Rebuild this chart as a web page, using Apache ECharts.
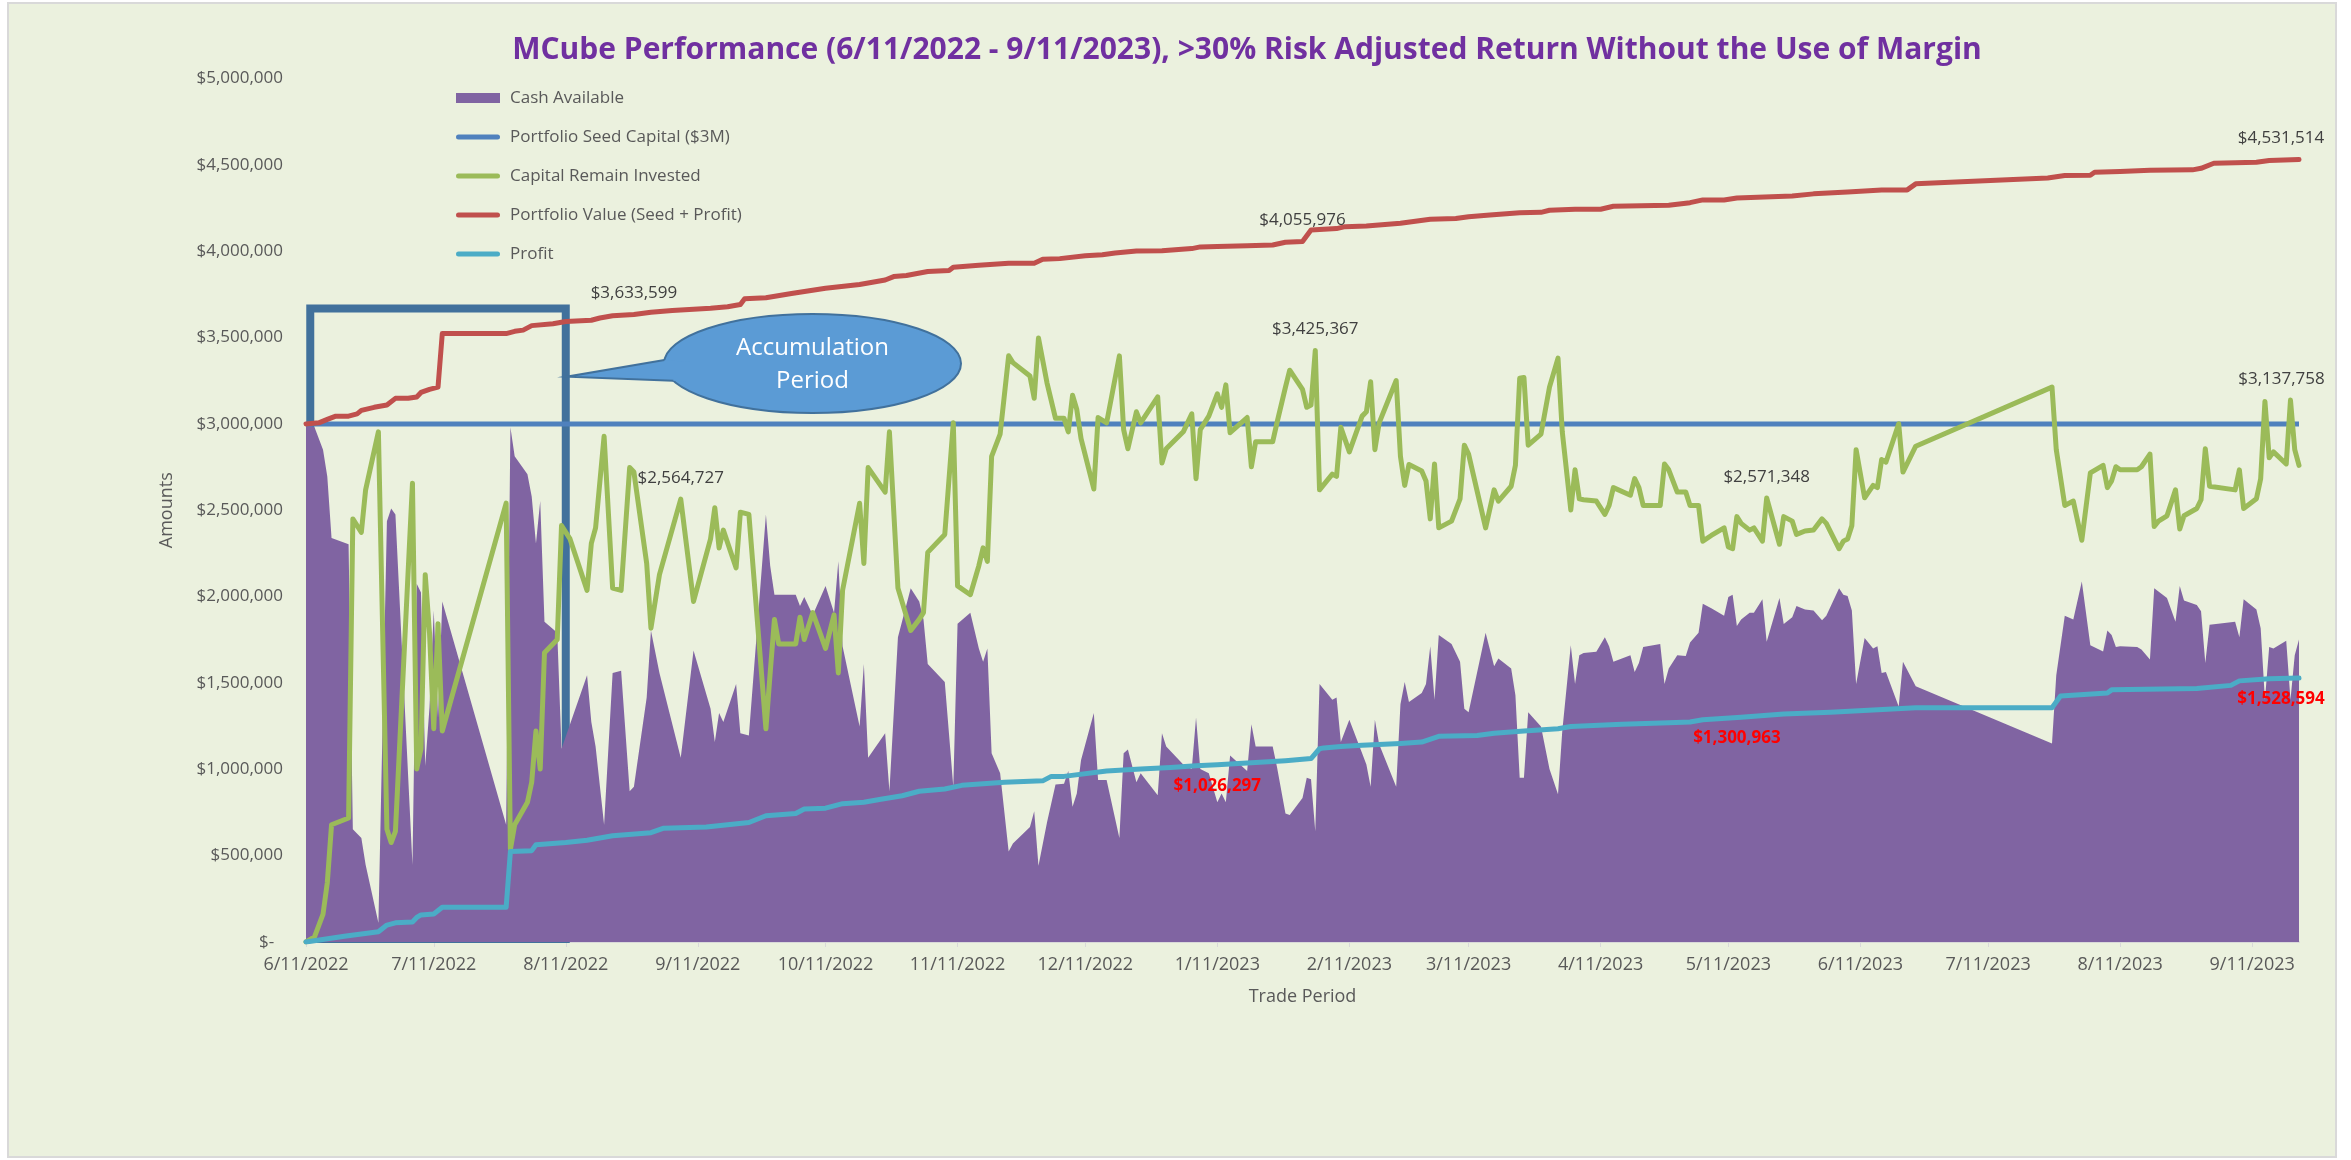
<!DOCTYPE html>
<html>
<head>
<meta charset="utf-8">
<title>MCube Performance</title>
<script src="https://cdn.jsdelivr.net/npm/echarts@6/dist/echarts.min.js"></script>
<style>
  html, body { margin: 0; padding: 0; background: #ffffff; }
  #main { width: 2351px; height: 1160px; }
</style>
</head>
<body>
<div id="main"></div>
<script>
// trade dates shared by Cash Available and Capital Remain Invested
var tradeDates = [
  '2022-06-11','2022-06-13','2022-06-15','2022-06-16','2022-06-17','2022-06-21','2022-06-22','2022-06-24','2022-06-25','2022-06-28','2022-06-30',
  '2022-07-01','2022-07-02','2022-07-06','2022-07-07','2022-07-08','2022-07-09','2022-07-10','2022-07-11','2022-07-12','2022-07-13','2022-07-28','2022-07-29','2022-07-30',
  '2022-08-02','2022-08-03','2022-08-04','2022-08-05','2022-08-06','2022-08-09','2022-08-10','2022-08-12','2022-08-16','2022-08-17','2022-08-18','2022-08-20','2022-08-22','2022-08-24','2022-08-26','2022-08-27','2022-08-30','2022-08-31',
  '2022-09-02','2022-09-07','2022-09-10','2022-09-14','2022-09-15','2022-09-16','2022-09-17','2022-09-20','2022-09-21','2022-09-23','2022-09-27','2022-09-28','2022-09-29','2022-09-30',
  '2022-10-04','2022-10-05','2022-10-06','2022-10-08','2022-10-11','2022-10-13','2022-10-14','2022-10-15','2022-10-19','2022-10-20','2022-10-21','2022-10-25','2022-10-26','2022-10-28','2022-10-31',
  '2022-11-02','2022-11-03','2022-11-04','2022-11-08','2022-11-10','2022-11-11','2022-11-14','2022-11-16','2022-11-17','2022-11-18','2022-11-19','2022-11-21','2022-11-23','2022-11-24','2022-11-28','2022-11-29','2022-11-30',
  '2022-12-02','2022-12-04','2022-12-06','2022-12-07','2022-12-08','2022-12-09','2022-12-10','2022-12-13','2022-12-14','2022-12-16','2022-12-19','2022-12-20','2022-12-21','2022-12-23','2022-12-24','2022-12-28','2022-12-29','2022-12-30',
  '2023-01-03','2023-01-05','2023-01-06','2023-01-07','2023-01-09','2023-01-11','2023-01-12','2023-01-13','2023-01-14','2023-01-18','2023-01-19','2023-01-20','2023-01-24','2023-01-25','2023-01-27','2023-01-28','2023-01-31',
  '2023-02-01','2023-02-02','2023-02-03','2023-02-04','2023-02-07','2023-02-08','2023-02-09','2023-02-11','2023-02-14','2023-02-15','2023-02-16','2023-02-17','2023-02-18','2023-02-22','2023-02-23','2023-02-24','2023-02-25','2023-02-28',
  '2023-03-01','2023-03-02','2023-03-03','2023-03-04','2023-03-07','2023-03-09','2023-03-10','2023-03-11','2023-03-15','2023-03-17','2023-03-18','2023-03-21','2023-03-22','2023-03-23','2023-03-24','2023-03-25','2023-03-28','2023-03-30',
  '2023-04-01','2023-04-02','2023-04-04','2023-04-05','2023-04-06','2023-04-07','2023-04-10','2023-04-12','2023-04-13','2023-04-14','2023-04-18','2023-04-19','2023-04-20','2023-04-21','2023-04-25','2023-04-26','2023-04-27','2023-04-29',
  '2023-05-01','2023-05-02','2023-05-04','2023-05-05','2023-05-07','2023-05-10','2023-05-11','2023-05-12','2023-05-13','2023-05-14','2023-05-16','2023-05-17','2023-05-19','2023-05-20','2023-05-23','2023-05-24','2023-05-26','2023-05-27','2023-05-29','2023-05-31',
  '2023-06-02','2023-06-03','2023-06-06','2023-06-07','2023-06-08','2023-06-09','2023-06-10','2023-06-12','2023-06-14','2023-06-15','2023-06-16','2023-06-17','2023-06-20','2023-06-21','2023-06-24',
  '2023-07-26','2023-07-27','2023-07-29','2023-07-31',
  '2023-08-02','2023-08-04','2023-08-07','2023-08-08','2023-08-09','2023-08-10','2023-08-11','2023-08-15','2023-08-16','2023-08-18','2023-08-19','2023-08-20','2023-08-22','2023-08-24','2023-08-25','2023-08-26','2023-08-29','2023-08-30','2023-08-31',
  '2023-09-01','2023-09-07','2023-09-08','2023-09-09','2023-09-12','2023-09-13','2023-09-14','2023-09-15','2023-09-16','2023-09-19','2023-09-20','2023-09-21','2023-09-22'
];

var cashAvailable = [
  3000000,2980000,2851000,2696000,2339000,2303000,653000,602000,447000,111000,2437000,
  2510000,2476000,447000,2075000,2024000,1020000,1360000,1920000,1300000,1972000,679000,2980000,2812000,
  2709000,2579000,2308000,2553000,1855000,1791000,1119000,1261000,1545000,1274000,1132000,679000,1558000,1571000,873000,899000,1416000,1804000,
  1558000,1067000,1688000,1351000,1158000,1326000,1274000,1494000,1209000,1196000,2476000,2179000,2011000,2011000,
  2011000,1946000,1998000,1894000,2062000,1907000,2204000,1713000,1248000,1610000,1067000,1209000,873000,1765000,2049000,
  1972000,1868000,1610000,1506000,899000,1843000,1907000,1700000,1623000,1700000,1093000,977000,524000,571000,666000,757000,442000,
  692000,912000,917000,990000,783000,860000,1054000,1326000,938000,938000,602000,1093000,1114000,925000,977000,850000,1209000,1132000,
  1028000,1002000,1300000,1002000,977000,809000,860000,809000,1080000,990000,1261000,1132000,1132000,1015000,744000,736000,834000,
  951000,943000,641000,1494000,1403000,1416000,1158000,1287000,1093000,1028000,899000,1287000,1145000,899000,1377000,1506000,1390000,1442000,
  1494000,1713000,1403000,1778000,1726000,1623000,1351000,1331000,1791000,1597000,1641000,1584000,1429000,951000,951000,1331000,1248000,1002000,
  855000,1222000,1718000,1494000,1661000,1674000,1680000,1765000,1713000,1623000,1661000,1563000,1615000,1708000,1726000,1494000,1584000,1661000,
  1656000,1734000,1791000,1959000,1933000,1889000,1998000,2011000,1830000,1868000,1907000,1907000,1985000,1739000,1992000,1842000,1881000,1946000,1925000,1920000,
  1863000,1889000,2049000,2011000,2003000,1920000,1494000,1760000,1700000,1713000,1558000,1563000,1364000,1623000,1481000,
  1150000,1545000,1889000,1868000,
  2088000,1718000,1682000,1804000,1778000,1708000,1713000,1708000,1693000,1636000,2049000,2029000,1992000,1855000,2062000,1977000,1951000,1915000,1615000,
  1837000,1855000,1765000,1985000,1925000,1817000,1403000,1708000,1700000,1744000,1403000,1661000,1752000
];

var capitalInvested = [
  0,30000,162000,343000,679000,718000,2450000,2372000,2618000,2954000,653000,
  576000,641000,2657000,1002000,1119000,2127000,1791000,1235000,1843000,1222000,2541000,537000,679000,
  809000,925000,1222000,1002000,1675000,1752000,2411000,2334000,2036000,2308000,2398000,2928000,2049000,2036000,2747000,2721000,2192000,1817000,
  2127000,2564727,1972000,2334000,2515000,2282000,2385000,2166000,2489000,2476000,1235000,1558000,1868000,1726000,
  1726000,1881000,1752000,1907000,1700000,1894000,1558000,2036000,2541000,2192000,2747000,2605000,2954000,2049000,1804000,
  1868000,1907000,2256000,2360000,3006000,2062000,2011000,2179000,2282000,2204000,2812000,2941000,3394000,3355000,3277000,3148000,3497000,
  3238000,3032000,3032000,2954000,3166000,3083000,2915000,2623000,3037000,3006000,3394000,2967000,2856000,3070000,3006000,3156000,2773000,2856000,
  2954000,3058000,2683000,2967000,3045000,3174000,3096000,3226000,2949000,3037000,2752000,2897000,2897000,3006000,3213000,3311000,3200000,
  3096000,3109000,3425367,2618000,2709000,2696000,2980000,2838000,3045000,3070000,3244000,2851000,3006000,3251000,2812000,2644000,2765000,2727000,
  2670000,2450000,2768000,2398000,2437000,2566000,2877000,2825000,2398000,2618000,2553000,2639000,2760000,3264000,3269000,2877000,2941000,3213000,
  3381000,2954000,2502000,2734000,2566000,2561000,2553000,2476000,2528000,2631000,2587000,2683000,2631000,2528000,2528000,2768000,2734000,2605000,
  2605000,2528000,2528000,2321000,2354000,2398000,2287000,2277000,2463000,2424000,2385000,2398000,2321000,2571348,2303000,2463000,2437000,2360000,2380000,2385000,
  2450000,2424000,2277000,2321000,2334000,2411000,2851000,2572000,2644000,2631000,2794000,2778000,3001000,2721000,2871000,
  3213000,2851000,2528000,2553000,
  2326000,2716000,2760000,2631000,2670000,2752000,2734000,2734000,2752000,2825000,2406000,2437000,2468000,2618000,2391000,2468000,2510000,2561000,2856000,
  2639000,2618000,2734000,2510000,2566000,2683000,3130000,2804000,2838000,2768000,3137758,2851000,2760000
];

var valueDates = [
  '2022-06-11','2022-06-14','2022-06-16','2022-06-18','2022-06-21','2022-06-23','2022-06-24','2022-06-27','2022-06-30','2022-07-02',
  '2022-07-05','2022-07-07','2022-07-08','2022-07-10','2022-07-12','2022-07-13','2022-07-28','2022-07-30','2022-08-01','2022-08-03',
  '2022-08-08','2022-08-11','2022-08-17','2022-08-19','2022-08-22','2022-08-27','2022-08-31','2022-09-05','2022-09-14','2022-09-18',
  '2022-09-21','2022-09-22','2022-09-27','2022-10-03','2022-10-11','2022-10-19','2022-10-25','2022-10-27','2022-10-30','2022-11-04',
  '2022-11-09','2022-11-10','2022-11-16','2022-11-23','2022-11-29','2022-12-01','2022-12-05','2022-12-11','2022-12-15','2022-12-18',
  '2022-12-23','2022-12-29','2023-01-05','2023-01-07','2023-01-11','2023-01-18','2023-01-24','2023-01-27','2023-01-31','2023-02-02',
  '2023-02-08','2023-02-10','2023-02-15','2023-02-23','2023-03-02','2023-03-08','2023-03-11','2023-03-16','2023-03-23','2023-03-28',
  '2023-03-30','2023-04-05','2023-04-11','2023-04-14','2023-04-27','2023-05-02','2023-05-05','2023-05-10','2023-05-13','2023-05-26',
  '2023-05-31','2023-06-08','2023-06-16','2023-06-22','2023-06-24','2023-07-25','2023-07-29','2023-08-04','2023-08-05','2023-08-11',
  '2023-08-18','2023-08-28','2023-08-30','2023-09-02','2023-09-12','2023-09-15','2023-09-22'
];
var portfolioValue = [
  3000000,3006000,3026000,3045000,3045000,3058000,3078000,3096000,3109000,3148000,
  3148000,3156000,3182000,3200000,3213000,3523000,3523000,3536000,3543000,3569000,
  3580000,3593000,3600000,3613000,3626000,3633599,3647000,3657000,3670000,3678000,
  3691000,3724000,3730000,3755000,3786000,3807000,3833000,3853000,3859000,3882000,
  3888000,3907000,3918000,3930000,3930000,3953000,3957000,3974000,3980000,3990000,
  4001000,4003000,4015000,4025000,4027000,4032000,4036000,4052000,4055976,4123000,
  4131000,4142000,4146000,4162000,4185000,4189000,4200000,4210000,4223000,4225000,
  4237000,4243000,4243000,4260000,4266000,4281000,4297000,4297000,4308000,4320000,
  4332000,4343000,4355000,4355000,4390000,4424000,4438000,4440000,4457000,4461000,
  4469000,4471000,4480000,4509000,4515000,4525000,4531514
];

var profitDates = [
  '2022-06-11','2022-06-20','2022-06-28','2022-06-30','2022-07-02','2022-07-06','2022-07-07','2022-07-08','2022-07-11','2022-07-13',
  '2022-07-28','2022-07-29','2022-08-03','2022-08-04','2022-08-11','2022-08-16','2022-08-22','2022-08-31','2022-09-03','2022-09-13',
  '2022-09-23','2022-09-27','2022-10-04','2022-10-06','2022-10-11','2022-10-15','2022-10-20','2022-10-24','2022-10-29','2022-11-02',
  '2022-11-08','2022-11-12','2022-11-22','2022-12-01','2022-12-03','2022-12-06','2022-12-16','2022-12-24','2022-12-31','2023-01-06',
  '2023-01-11','2023-01-27','2023-02-02','2023-02-04','2023-02-05','2023-02-09','2023-02-14','2023-02-23','2023-02-28','2023-03-04',
  '2023-03-13','2023-03-17','2023-03-24','2023-04-01','2023-04-04','2023-04-16','2023-04-27','2023-05-02','2023-05-05','2023-05-14',
  '2023-05-24','2023-06-04','2023-06-14','2023-06-24','2023-07-26','2023-07-28','2023-08-08','2023-08-09','2023-08-29','2023-09-06',
  '2023-09-08','2023-09-15','2023-09-22'
];
var profit = [
  0,33000,59000,98000,111000,116000,142000,157000,162000,201000,
  201000,524000,529000,563000,576000,589000,615000,633000,659000,666000,
  692000,731000,744000,770000,775000,801000,809000,827000,847000,873000,
  886000,907000,925000,933000,959000,959000,990000,1002000,1010000,1020000,
  1026297,1050000,1062000,1119000,1124000,1132000,1139000,1150000,1158000,1191000,
  1196000,1209000,1222000,1235000,1248000,1261000,1269000,1274000,1287000,1301000,
  1320000,1331000,1344000,1357000,1357000,1424000,1442000,1460000,1468000,1486000,
  1512000,1525000,1528594
];

var seedDates = ['2022-06-11', '2023-09-22'];
var seedCapital = [3000000, 3000000];

var tickLabels = ['6/11/2022','7/11/2022','8/11/2022','9/11/2022','10/11/2022','11/11/2022','12/11/2022',
  '1/11/2023','2/11/2023','3/11/2023','4/11/2023','5/11/2023','6/11/2023','7/11/2023','8/11/2023','9/11/2023'];

// labelled points [date, value]
var valueLabels = [['2022-08-27', 3633599], ['2023-01-31', 4055976], ['2023-09-22', 4531514]];
var investedLabels = [['2022-09-07', 2564727], ['2023-02-03', 3425367], ['2023-05-20', 2571348], ['2023-09-20', 3137758]];
var profitLabels = [['2023-01-11', 1026297], ['2023-05-13', 1300963], ['2023-09-22', 1528594]];

var FONT = '"Open Sans", "Noto Sans", sans-serif';

// 'YYYY-MM-DD' -> local timestamp
function day(s) {
  var p = s.split('-');
  return new Date(+p[0], +p[1] - 1, +p[2]).getTime();
}
// 'M/D/YYYY' -> local timestamp
function tickDay(s) {
  var p = s.split('/');
  return new Date(+p[2], +p[0] - 1, +p[1]).getTime();
}
function money(v) {
  if (v === 0) return '$-  ';
  return '$' + String(Math.round(v)).replace(/\B(?=(\d{3})+(?!\d))/g, ',');
}
function pairs(xs, ys) {
  return xs.map(function (x, i) { return [day(x), ys[i]]; });
}
function marks(list, pos, offsets, bold, color) {
  return {
    symbol: 'circle',
    symbolSize: 1,
    silent: true,
    itemStyle: { color: 'rgba(0,0,0,0)' },
    label: {
      show: true, position: pos, distance: 12,
      color: color, fontSize: 17, fontFamily: FONT, fontWeight: bold ? 'bold' : 'normal',
      formatter: function (p) { return money(p.value); }
    },
    data: list.map(function (d, i) {
      return { coord: [day(d[0]), d[1]], value: d[1], label: { offset: [offsets[i], 0] } };
    })
  };
}

var tickValues = tickLabels.map(tickDay);
var lineIcon = 'path://M2.5,0 H41.5 A2.5,2.5 0 0 1 41.5,5 H2.5 A2.5,2.5 0 0 1 2.5,0 Z';

var myChart = echarts.init(document.getElementById('main'));

var option = {
  backgroundColor: '#ffffff',
  animation: false,
  title: {
    text: 'MCube Performance (6/11/2022 - 9/11/2023), >30% Risk Adjusted Return Without the Use of Margin',
    left: 1247, top: 35, textAlign: 'center', padding: 0,
    textStyle: { color: '#7030a0', fontSize: 30, fontWeight: 'bold', fontFamily: FONT }
  },
  legend: {
    orient: 'vertical', left: 451, top: 83, itemGap: 19,
    itemWidth: 44, itemHeight: 10, selectedMode: false,
    textStyle: { color: '#595959', fontSize: 17, fontFamily: FONT, lineHeight: 20, padding: [0, 0, 0, 5] },
    data: [
      { name: 'Cash Available', icon: 'rect' },
      { name: 'Portfolio Seed Capital ($3M)', icon: lineIcon },
      { name: 'Capital Remain Invested', icon: lineIcon },
      { name: 'Portfolio Value (Seed + Profit)', icon: lineIcon },
      { name: 'Profit', icon: lineIcon }
    ]
  },
  grid: { left: 306, right: 52, top: 78.5, bottom: 218 },
  xAxis: {
    type: 'value',
    min: day('2022-06-11'), max: day('2023-09-22'),
    name: 'Trade Period', nameLocation: 'middle', nameGap: 46,
    nameTextStyle: { color: '#595959', fontSize: 18, fontFamily: FONT },
    axisLine: { show: true, lineStyle: { color: '#d9d9d9', width: 2 } },
    axisTick: { show: true, length: 5, lineStyle: { color: '#d9d9d9' }, customValues: tickValues },
    axisLabel: {
      color: '#595959', fontSize: 18, fontFamily: FONT, margin: 14,
      customValues: tickValues,
      formatter: function (v) {
        var d = new Date(v);
        return (d.getMonth() + 1) + '/' + d.getDate() + '/' + d.getFullYear();
      }
    },
    splitLine: { show: false }
  },
  yAxis: {
    type: 'value', min: 0, max: 5000000, interval: 500000,
    name: 'Amounts', nameLocation: 'middle', nameGap: 130,
    nameTextStyle: { color: '#595959', fontSize: 18, fontFamily: FONT },
    axisLine: { show: false }, axisTick: { show: false }, splitLine: { show: false },
    axisLabel: { color: '#595959', fontSize: 17, fontFamily: FONT, margin: 23, formatter: money }
  },
  graphic: [
    { type: 'rect', z: -10, silent: true, shape: { x: 8, y: 3, width: 2328, height: 1154 },
      style: { fill: '#ebf1de', stroke: '#d9d9d9', lineWidth: 2 } },
    // callout bubble
    { type: 'ellipse', z: 100, silent: true, shape: { cx: 812.5, cy: 363.5, rx: 148.5, ry: 49.5 },
      style: { fill: '#5b9bd5', stroke: '#41719c', lineWidth: 2 } },
    { type: 'polygon', z: 101, silent: true,
      shape: { points: [[568, 376.6], [664.4, 360], [690, 362], [690, 382], [673.3, 380.7]] },
      style: { fill: '#5b9bd5' } },
    { type: 'polyline', z: 102, silent: true,
      shape: { points: [[664.4, 360], [566.7, 376.7], [673.3, 380.7]] },
      style: { stroke: '#41719c', lineWidth: 2, fill: null } },
    { type: 'text', z: 103, silent: true,
      style: { text: 'Accumulation\nPeriod', x: 812.5, y: 365, align: 'center', verticalAlign: 'middle',
        fill: '#ffffff', font: '24px ' + FONT, lineHeight: 33 } }
  ],
  series: [
    {
      name: 'Cash Available', type: 'line', symbol: 'none', z: 1,
      lineStyle: { width: 0 }, itemStyle: { color: '#8064a2' },
      areaStyle: { color: '#8064a2', opacity: 1 },
      data: pairs(tradeDates, cashAvailable)
    },
    {
      name: 'Portfolio Seed Capital ($3M)', type: 'line', symbol: 'none', z: 2,
      itemStyle: { color: '#4f81bd' }, lineStyle: { color: '#4f81bd', width: 5 },
      data: pairs(seedDates, seedCapital)
    },
    {
      name: 'Capital Remain Invested', type: 'line', symbol: 'none', z: 3,
      itemStyle: { color: '#9bbb59' }, lineStyle: { color: '#9bbb59', width: 5, join: 'round', cap: 'round' },
      data: pairs(tradeDates, capitalInvested),
      markPoint: marks(investedLabels, 'top', [0, 0, 0, -9], false, '#404040')
    },
    {
      name: 'Portfolio Value (Seed + Profit)', type: 'line', symbol: 'none', z: 4,
      itemStyle: { color: '#c0504d' }, lineStyle: { color: '#c0504d', width: 5, join: 'round', cap: 'round' },
      data: pairs(valueDates, portfolioValue),
      markPoint: marks(valueLabels, 'top', [0, 0, -18], false, '#404040')
    },
    {
      name: 'Profit', type: 'line', symbol: 'none', z: 5,
      itemStyle: { color: '#4bacc6' }, lineStyle: { color: '#4bacc6', width: 5, join: 'round', cap: 'round' },
      data: pairs(profitDates, profit),
      markPoint: marks(profitLabels, 'bottom', [0, 0, -18], true, '#ff0000')
    },
    {
      // accumulation period box
      name: 'box', type: 'line', symbol: 'none', z: 6, data: [],
      markArea: {
        silent: true,
        itemStyle: { color: 'rgba(0,0,0,0)', borderColor: '#41719c', borderWidth: 8 },
        data: [[{ coord: [day('2022-06-12'), 17000] }, { coord: [day('2022-08-11'), 3668000] }]]
      }
    }
  ]
};

myChart.setOption(option);
</script>
</body>
</html>
